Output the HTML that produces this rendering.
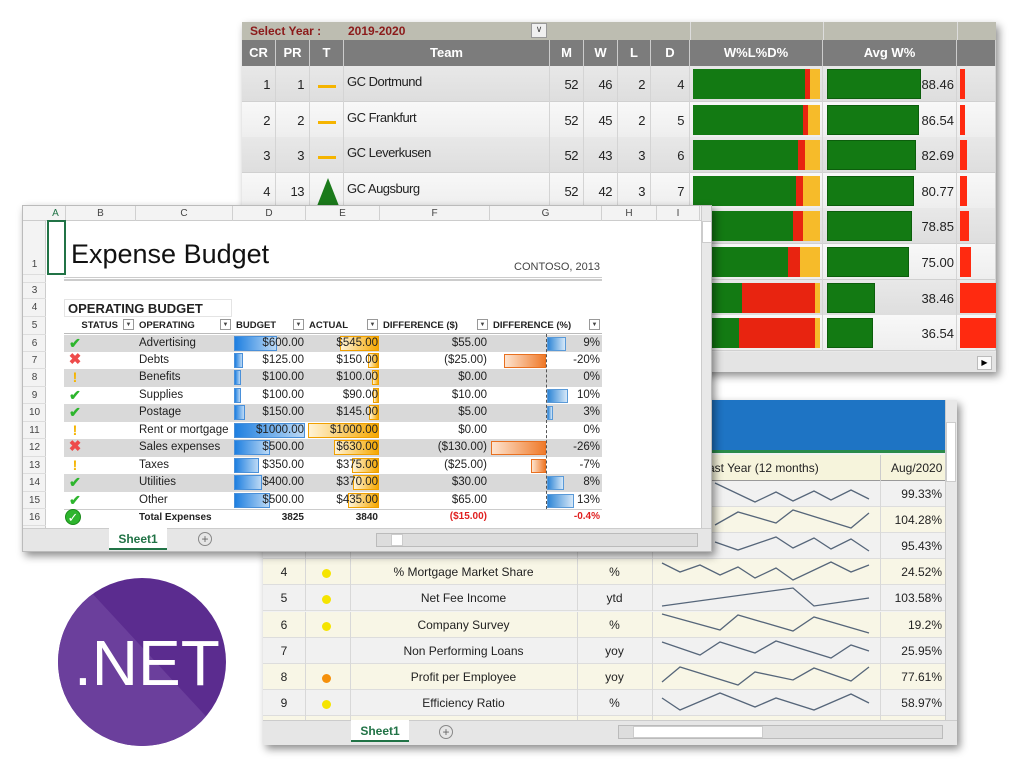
<!DOCTYPE html>
<html><head><meta charset="utf-8"><style>
*{margin:0;padding:0;box-sizing:border-box}
body{width:1024px;height:768px;background:#fff;position:relative;overflow:hidden;font-family:"Liberation Sans",sans-serif}
.a{position:absolute}
.win{position:absolute;box-shadow:3px 4px 8px rgba(0,0,0,.45);overflow:hidden}
</style></head><body>

<div class="win" id="top" style="left:242px;top:22px;width:754px;height:350px;background:#e9e9e9"></div>
<div class="win" id="bot" style="left:263px;top:400px;width:694px;height:345px;background:#f2f2f2"></div>
<div class="win" id="exp" style="left:22px;top:205px;width:690px;height:347px;background:#fff;border:1px solid #bbb"></div>

<svg class="a" style="left:58px;top:578px" width="168" height="168" viewBox="0 0 168 168">
<defs><clipPath id="c"><circle cx="84" cy="84" r="84"/></clipPath></defs>
<circle cx="84" cy="84" r="84" fill="#5b2c8f"/>
<polygon clip-path="url(#c)" points="0,0 20,0 168,160 168,168 0,168" fill="#6b3f9c"/>
<text x="16" y="107" fill="#fff" font-family="Liberation Sans" font-size="64">.NET</text>
</svg>

<script>
var T=document.getElementById('top');
var s='';
s+='<div class="a" style="left:0;top:0;width:754px;height:18px;background:#bdbdb1"></div>';
s+='<div class="a" style="left:8px;top:2px;font-size:12px;font-weight:bold;color:#8b1a1a">Select Year :</div>';
s+='<div class="a" style="left:106px;top:2px;font-size:12px;font-weight:bold;color:#8b1a1a">2019-2020</div>';
s+='<div class="a" style="left:289px;top:1px;width:16px;height:15px;background:#f0f0f0;border:1px solid #999;font-size:9px;text-align:center;color:#444">&#8744;</div>';
var cols=[0,34,68,102,308,342,376,409,448,581,715,754];
var hd=['CR','PR','T','Team','M','W','L','D','W%L%D%','Avg W%',''];
s+='<div class="a" style="left:0;top:18px;width:754px;height:26px;background:#7c7c7c"></div>';
for(var i=0;i<11;i++){s+='<div class="a" style="left:'+cols[i]+'px;top:18px;width:'+(cols[i+1]-cols[i])+'px;height:26px;line-height:26px;text-align:center;color:#fff;font-weight:bold;font-size:13px;border-right:1px solid #ccc">'+hd[i]+'</div>';}
for(var i=8;i<11;i++)s+='<div class="a" style="left:'+cols[i]+'px;top:0;height:18px;border-left:1px solid #ddd"></div>';
var R=[[1,1,'-','GC Dortmund',52,46,2,4,'88.46'],[2,2,'-','GC Frankfurt',52,45,2,5,'86.54'],[3,3,'-','GC Leverkusen',52,43,3,6,'82.69'],[4,13,'^','GC Augsburg',52,42,3,7,'80.77'],[5,5,'-','GC Bremen',52,41,4,7,'78.85'],[6,6,'-','GC Mainz',52,39,5,8,'75.00'],[7,7,'-','GC Hertha',52,20,30,2,'38.46'],[8,8,'-','GC Koln',52,19,31,2,'36.54']];
for(var r=0;r<8;r++){var y=44+r*35.6,d=R[r];
 s+='<div class="a" style="left:0;top:'+y+'px;width:754px;height:36px;background:'+(r%2?'linear-gradient(#f8f8f8,#eeeeee)':'linear-gradient(#e8e8e8,#dedede)')+';border-bottom:1px solid #d0d0d0"></div>';
 for(var i=0;i<11;i++)s+='<div class="a" style="left:'+cols[i]+'px;top:'+y+'px;height:36px;border-right:1px solid #d4d4d4;width:'+(cols[i+1]-cols[i])+'px"></div>';
 var cell=function(i,t,al){return '<div class="a" style="left:'+cols[i]+'px;top:'+(y+11)+'px;width:'+(cols[i+1]-cols[i]-6)+'px;text-align:'+(al||'right')+';font-size:13px;color:#222;letter-spacing:-.5px">'+t+'</div>';};
 s+=cell(0,d[0])+cell(1,d[1])+cell(4,d[4])+cell(5,d[5])+cell(6,d[6])+cell(7,d[7]);
 s+='<div class="a" style="left:105px;top:'+(y+8)+'px;font-size:13px;color:#222;letter-spacing:-.5px">'+d[3]+'</div>';
 if(d[2]=='-')s+='<div class="a" style="left:76px;top:'+(y+19)+'px;width:18px;height:3px;background:#f5b400"></div>';
 else s+='<div class="a" style="left:75px;top:'+(y+5)+'px;width:0;height:0;border-left:11px solid transparent;border-right:11px solid transparent;border-bottom:28px solid #1b7a1b"></div>';
 var bw=127,g=bw*d[5]/52,l=bw*d[6]/52,dd=bw-g-l;
 s+='<div class="a" style="left:451px;top:'+(y+3)+'px;width:'+g+'px;height:30px;background:#137a13"></div>';
 s+='<div class="a" style="left:'+(451+g)+'px;top:'+(y+3)+'px;width:'+l+'px;height:30px;background:#e82410"></div>';
 s+='<div class="a" style="left:'+(451+g+l)+'px;top:'+(y+3)+'px;width:'+dd+'px;height:30px;background:#f6bb2a"></div>';
 var v=parseFloat(d[8]);
 s+='<div class="a" style="left:585px;top:'+(y+3)+'px;width:'+(12.6+0.92*v)+'px;height:30px;background:#137a13;border:1px solid #0c5e0c"></div>';
 s+='<div class="a" style="left:585px;top:'+(y+11)+'px;width:127px;text-align:right;font-size:13px;color:#222">'+d[8]+'</div>';
 s+='<div class="a" style="left:718px;top:'+(y+3)+'px;width:'+(r>5?36:(d[6]*2+1))+'px;height:30px;background:#ff2a10"></div>';
}
s+='<div class="a" style="left:0;top:330px;width:754px;height:20px;background:#e4e4e4"></div>';
s+='<div class="a" style="left:735px;top:334px;width:15px;height:14px;background:#fafafa;border:1px solid #bbb;font-size:8px;text-align:center;line-height:12px">&#9654;</div>';
T.innerHTML=s;

var B=document.getElementById('bot');s='';
s+='<div class="a" style="left:0;top:0;width:682px;height:53px;background:#1e74c4;border-bottom:3px solid #2a8a4a"></div>';
s+='<div class="a" style="left:0;top:55px;width:682px;height:26px;background:#f6f4dc;border-bottom:1px solid #999"></div>';
s+='<div class="a" style="left:445px;top:61px;font-size:12px;color:#222">ast Year (12 months)</div>';
s+='<div class="a" style="left:617px;top:55px;height:26px;border-left:1px solid #ccc"></div>';
s+='<div class="a" style="left:628px;top:61px;font-size:12px;color:#222">Aug/2020</div>';
var K=[[1,'','','','99.33%'],[2,'','','','104.28%'],[3,'','','','95.43%'],[4,'#f5e400','% Mortgage Market Share','%','24.52%'],[5,'#f5e400','Net Fee Income','ytd','103.58%'],[6,'#f5e400','Company Survey','%','19.2%'],[7,'','Non Performing Loans','yoy','25.95%'],[8,'#f5900a','Profit per Employee','yoy','77.61%'],[9,'#f5e400','Efficiency Ratio','%','58.97%']];
var kc=[0,42,87,314,389,617,682];
for(var r=0;r<10;r++){var y=81+r*26.1;
 s+='<div class="a" style="left:0;top:'+y+'px;width:682px;height:26px;background:'+(r%2?'#f8f6e6':'#f1f1f1')+';border-bottom:1px solid #ddd"></div>';
 for(var i=1;i<6;i++)s+='<div class="a" style="left:'+kc[i]+'px;top:'+y+'px;height:26px;border-left:1px solid #d8d8d8"></div>';
 if(r>8)continue;var d=K[r];
 s+='<div class="a" style="left:0;top:'+(y+6)+'px;width:42px;text-align:center;font-size:12px;color:#222">'+d[0]+'</div>';
 if(d[1])s+='<div class="a" style="left:59px;top:'+(y+10)+'px;width:9px;height:9px;border-radius:50%;background:'+d[1]+'"></div>';
 s+='<div class="a" style="left:87px;top:'+(y+6)+'px;width:227px;text-align:center;font-size:12px;color:#222">'+d[2]+'</div>';
 s+='<div class="a" style="left:314px;top:'+(y+6)+'px;width:75px;text-align:center;font-size:12px;color:#222">'+d[3]+'</div>';
 s+='<div class="a" style="left:617px;top:'+(y+6)+'px;width:62px;text-align:right;font-size:12px;color:#222">'+d[4]+'</div>';
}
var X={900:662,940:680,985:700,1020:715,1030:720,1070:738,1110:755,1155:776,1195:793,1240:814,1280:831,1325:851,1365:869};
var SP=[[[1020,483],[1110,502],[1155,492],[1195,501],[1240,491],[1280,500],[1325,490],[1365,499]],
[[1020,525],[1070,512],[1155,523],[1195,510],[1325,528],[1365,513]],
[[1020,542],[1070,550],[1155,537],[1195,548],[1240,538],[1280,549],[1325,539],[1365,551]],
[[900,563],[940,572],[985,565],[1030,575],[1070,567],[1110,578],[1155,568],[1195,580],[1280,562],[1325,572],[1365,565]],
[[900,606],[1195,588],[1240,606],[1365,598]],
[[900,614],[1030,630],[1070,615],[1195,631],[1240,617],[1365,633]],
[[900,642],[985,655],[1030,642],[1110,653],[1155,641],[1280,658],[1325,645],[1365,651]],
[[900,682],[940,667],[1070,685],[1110,672],[1195,680],[1240,668],[1325,681],[1365,667]],
[[900,698],[940,710],[1030,693],[1110,707],[1155,698],[1240,710],[1325,694],[1365,703]]];
var sv='<svg class="a" style="left:0;top:0" width="694" height="345">';
SP.forEach(function(p){sv+='<polyline fill="none" stroke="#56667a" stroke-width="1.3" points="'+p.map(function(q){return (X[q[0]]-263)+','+(q[1]-400)}).join(' ')+'"/>';});
sv+='</svg>';s+=sv;
s+='<div class="a" style="left:682px;top:0;width:12px;height:320px;background:#e8e8e8;border-left:1px solid #ccc"></div>';
s+='<div class="a" style="left:683px;top:22px;width:10px;height:60px;background:#fff;border:1px solid #ccc"></div>';
s+='<div class="a" style="left:0;top:320px;width:694px;height:25px;background:#e6e6e6;border-top:1px solid #ccc"></div>';
s+='<div class="a" style="left:88px;top:320px;width:58px;height:22px;background:#fff;color:#217346;font-weight:bold;font-size:12px;text-align:center;line-height:22px;border-bottom:2px solid #217346">Sheet1</div>';
s+='<div class="a" style="left:176px;top:325px;width:14px;height:14px;border:1px solid #888;border-radius:50%;font-size:12px;line-height:12px;text-align:center;color:#666">+</div>';
s+='<div class="a" style="left:355px;top:325px;width:325px;height:14px;background:#ddd;border:1px solid #bbb"></div>';
s+='<div class="a" style="left:370px;top:326px;width:130px;height:12px;background:#fff;border:1px solid #ccc"></div>';
B.innerHTML=s;

var E=document.getElementById('exp');s='';
var ox=22,oy=205;
function A(x,y,w,h,st,t){return '<div class="a" style="left:'+(x-ox)+'px;top:'+(y-oy)+'px;width:'+w+'px;height:'+h+'px;'+st+'">'+(t||'')+'</div>';}
s+=A(22,205,678,15,'background:#f3f3f3;border-bottom:1px solid #ccc');
var ec=[45,65,135,232,305,379,489,601,656,699],el_=['A','B','C','D','E','F','G','H','I'];
for(var i=0;i<9;i++)s+=A(ec[i],205,ec[i+1]-ec[i],15,'border-right:1px solid #d0d0d0;text-align:center;font-size:10px;line-height:15px;color:'+(i?'#444':'#217346'),el_[i]);
s+=A(22,220,23,307,'background:#f3f3f3;border-right:1px solid #ccc');
var rows=[[1,220,54],[2,274,8],[3,282,16],[4,298,18],[5,316,17.5]];
for(var r=6;r<=16;r++)rows.push([r,333.5+(r-6)*17.45,17.45]);
rows.forEach(function(q){s+=A(22,q[1],23,q[2],'border-bottom:1px solid #ddd;font-size:10px;color:#444;text-align:center;line-height:'+(q[0]==1?88:q[2])+'px;overflow:hidden',q[0]==2?'':q[0]);});
s+=A(46,219,19,55,'border:2px solid #217346');
s+=A(70,238,300,34,'font-size:27px;color:#111','Expense Budget');
s+=A(450,260,149,14,'font-size:11px;color:#444;text-align:right','CONTOSO, 2013');
s+=A(63,276,538,4,'border-top:1px solid #ccc;border-bottom:2px solid #ccc');
s+=A(63,298,168,18,'border:1px solid #e4e4e4;font-size:13px;font-weight:bold;color:#222;padding:1px 3px;line-height:15px','OPERATING BUDGET');
var hx=[[65,135,'STATUS'],[135,232,'OPERATING'],[232,305,'BUDGET'],[305,379,'ACTUAL'],[379,489,'DIFFERENCE ($)'],[489,601,'DIFFERENCE (%)']];
hx.forEach(function(h,i){s+=A(h[0],317,h[1]-h[0],15,'font-size:9.5px;font-weight:bold;color:#222;line-height:16px;'+(i==0?'text-align:right;padding-right:18px':'padding-left:3px'),h[2]);
 s+=A(h[1]-13,318,11,11,'border:1px solid #999;background:#fff;font-size:6px;text-align:center;line-height:10px;color:#444','&#9660;');});
s+=A(63,332,538,1,'background:#bbb');
var D=[['c','Advertising',600,545,'$55.00',9],['x','Debts',125,150,'($25.00)',-20],['!','Benefits',100,100,'$0.00',0],['c','Supplies',100,90,'$10.00',10],['c','Postage',150,145,'$5.00',3],['!','Rent or mortgage',1000,1000,'$0.00',0],['x','Sales expenses',500,630,'($130.00)',-26],['!','Taxes',350,375,'($25.00)',-7],['c','Utilities',400,370,'$30.00',8],['c','Other',500,435,'$65.00',13]];
function f(v){return '$'+v.toFixed(2)}
D.forEach(function(d,i){var y=333.5+i*17.45;
 if(i%2==0)s+=A(63,y,538,17.45,'background:#d9d9d9');
 var ic=d[0]=='c'?'<span style="color:#2db52d;font-size:14px;font-weight:bold">&#10004;</span>':d[0]=='x'?'<span style="color:#ee4b4b;font-size:15px;font-weight:bold">&#10006;</span>':'<span style="color:#f5b400;font-size:14px;font-weight:bold">!</span>';
 s+=A(64,y-1,20,18,'text-align:center;line-height:18px',ic);
 s+=A(138,y+2,100,14,'font-size:11.5px;color:#222;white-space:nowrap',d[1]);
 s+=A(233,y+1,Math.max(6,d[2]*0.071),15,'background:linear-gradient(90deg,#1e7fe0,#bcd9f5);border:1px solid #4a90d9');
 var aw=Math.max(6,d[3]*0.071);
 s+=A(378-aw,y+1,aw,15,'background:linear-gradient(90deg,#fff3d6,#f6a800);border:1px solid #f0a000');
 s+=A(232,y+2,71,14,'font-size:11.5px;color:#222;text-align:right',f(d[2]));
 s+=A(305,y+2,72,14,'font-size:11.5px;color:#222;text-align:right',f(d[3]));
 s+=A(379,y+2,107,14,'font-size:11.5px;color:#222;text-align:right',d[4]);
 var pw=Math.abs(d[5])*2.1;
 if(d[5]>0)s+=A(546,y+2,pw,14,'background:linear-gradient(90deg,#2f86d6,#d6e8f8);border:1px solid #5a9ad8');
 if(d[5]<0)s+=A(545-pw,y+2,pw,14,'background:linear-gradient(90deg,#fde4d0,#ef7a2a);border:1px solid #e87020');
 s+=A(489,y+2,110,14,'font-size:11.5px;color:#222;text-align:right',d[5]+'%');
});
s+=A(545,333,1,175,'border-left:1px dashed #555');
s+=A(63,508,538,1,'background:#ccc');
s+=A(64,508,16,16,'text-align:center;font-size:13px;line-height:16px;color:#fff;background:#2db52d;border-radius:50%;border:1px solid #1a8a1a','&#10003;');
s+=A(138,511,100,14,'font-size:10px;font-weight:bold;color:#222','Total Expenses');
s+=A(232,511,71,14,'font-size:10px;font-weight:bold;color:#222;text-align:right','3825');
s+=A(305,511,72,14,'font-size:10px;font-weight:bold;color:#222;text-align:right','3840');
s+=A(379,510,107,14,'font-size:10px;font-weight:bold;color:#e02020;text-align:right','($15.00)');
s+=A(489,510,110,14,'font-size:10px;font-weight:bold;color:#e02020;text-align:right','-0.4%');
s+=A(700,205,12,322,'background:#e8e8e8;border-left:1px solid #ccc');
s+=A(701,220,10,22,'background:#fff;border:1px solid #ccc');
s+=A(22,527,690,25,'background:#e6e6e6;border-top:1px solid #ccc');
s+=A(108,527,58,22,'background:#fff;color:#217346;font-weight:bold;font-size:12px;text-align:center;line-height:22px;border-bottom:2px solid #217346','Sheet1');
s+=A(197,531,14,14,'border:1px solid #888;border-radius:50%;font-size:12px;line-height:12px;text-align:center;color:#666','+');
s+=A(375,532,322,14,'background:#ddd;border:1px solid #bbb');
s+=A(390,533,12,12,'background:#fff;border:1px solid #ccc');
E.innerHTML=s;
</script>
</body></html>
